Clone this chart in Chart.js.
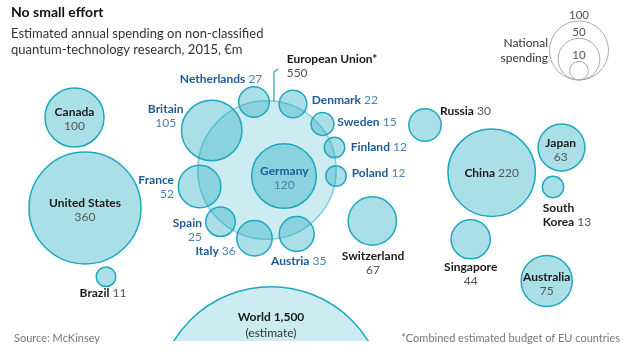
<!DOCTYPE html>
<html><head><meta charset="utf-8">
<script src="https://cdn.jsdelivr.net/npm/chart.js@4.4.0/dist/chart.umd.min.js"></script>
<style>html,body{margin:0;padding:0;background:#fff}canvas{display:block}</style>
</head><body>
<canvas id="c" width="640" height="357"></canvas>
<script>
// ---- data ----
const countries = ["Canada","United States","Brazil","Britain","France","Spain","Italy","Austria","Netherlands","Denmark","Sweden","Finland","Poland","Germany","Switzerland","Russia","China","Japan","South Korea","Singapore","Australia"];
const spending  = [100,360,11,105,52,25,36,35,27,22,15,12,12,120,67,30,220,63,13,44,75];
const isEU      = [false,false,false,true,true,true,true,true,true,true,true,true,true,true,false,false,false,false,false,false,false];
// layout positions of the bubbles (chart units)
const posX = [74.5,85,106,211.7,199.6,220.5,254.5,296.7,254,293,322.5,334.5,336,284,372.3,425,491.7,561.5,553,470.7,546.7];
const posY = [117.5,208,276.7,130.5,186.5,221.7,238.3,234,102,104,124,147.5,176,176,221,125,172.8,147.5,187,239.3,281];
const euName = "European Union*", euValue = 550, euPos = [267,170];
const worldName = "World", worldValue = 1500, worldPos = [271,401];
const legendValues = [100,50,10];
const legendPos = [579,80]; // bottom-anchored

const K = 2.95;
const rad = v => K*Math.sqrt(v);

// label placements: mode, dx, dy (first line), align
const labelStyle = [
 ["stack",0,-5,"center"],["stack",0,-5,"center"],["inline",-3,16.3,"center"],
 ["stack",-46,-21,"center"],["stack",-25.6,-6.5,"right"],["stack",-18.5,1,"right"],
 ["inline",-18.8,12.7,"right"],["inline",2,26.7,"center"],["inline",8.3,-23,"right"],
 ["inline",18.7,-4,"left"],["inline",14.8,-2.3,"left"],["inline",16.2,0,"left"],
 ["inline",15.7,-2.7,"left"],["stack",0.3,-5,"center"],["stack",0.7,34.7,"center"],
 ["inline",15,-14.3,"left"],["inline",0,0.5,"center"],["stack",-0.8,-4.2,"center"],
 ["split",-10.3,21.3,"left"],["stack",0,27.4,"center"],["stack",0,-4.3,"center"]
];

const FONT = "Lato";
const fill = 'rgba(0,158,184,0.33)';
const fillLight = 'rgba(0,158,184,0.2)';
const stroke = '#1ea8bf';

function fmt(v){return v.toLocaleString('en-US');}

function drawParts(ctx, parts, x, y, align){
  let w=0; const ws=parts.map(p=>{ctx.font=p[1];const m=ctx.measureText(p[0]).width;w+=m;return m;});
  let sx = align==="left"?x:(align==="right"?x-w:x-w/2);
  ctx.textAlign="left"; ctx.textBaseline="middle";
  parts.forEach((p,i)=>{ctx.font=p[1];ctx.fillStyle=p[2];ctx.fillText(p[0],sx,y);sx+=ws[i];});
}

const labelPlugin = {
  id:'labels',
  afterDatasetsDraw(chart){
    const ctx=chart.ctx; ctx.save();
    const bF=`bold 12px ${FONT}`, rF=`12px ${FONT}`;
    const meta=chart.getDatasetMeta(0);
    countries.forEach((name,i)=>{
      const el=meta.data[i]; const [mode,dx,dy,al]=labelStyle[i];
      const nc=isEU[i]?'#1d5a96':'#1a1a1a', vc=isEU[i]?'#4c7fb3':'#555';
      const v=fmt(spending[i]); const x=el.x+dx, y=el.y+dy;
      if(mode==="stack"){drawParts(ctx,[[name,bF,nc]],x,y,al);drawParts(ctx,[[v,rF,vc]],x,y+14,al);}
      else if(mode==="inline"){drawParts(ctx,[[name,bF,nc],[" "+v,rF,vc]],x,y,al);}
      else {const w=name.split(" ");drawParts(ctx,[[w[0],bF,nc]],x,y,al);drawParts(ctx,[[w.slice(1).join(" "),bF,nc],[" "+v,rF,vc]],x,y+14,al);}
    });
    const eu=chart.getDatasetMeta(1).data[0];
    drawParts(ctx,[[euName,`bold 12px ${FONT}`,'#1a1a1a']],eu.x+19.7,eu.y-110.7,"left");
    drawParts(ctx,[[fmt(euValue),rF,'#555']],eu.x+19.7,eu.y-96.7,"left");
    ctx.strokeStyle=stroke; ctx.lineWidth=1.2; ctx.beginPath();
    ctx.moveTo(eu.x+7,eu.y-rad(euValue)+0.5); ctx.lineTo(eu.x+7,eu.y-98); ctx.lineTo(eu.x+11,eu.y-101); ctx.stroke();
    const wd=chart.getDatasetMeta(2).data[0];
    drawParts(ctx,[[worldName,bF,'#1a1a1a'],[" "+fmt(worldValue),bF,'#1a1a1a']],wd.x,wd.y-84.3,"center");
    drawParts(ctx,[["(estimate)",rF,'#333']],wd.x,wd.y-67.5,"center");
    const lg=chart.getDatasetMeta(3).data;
    legendValues.forEach((v,i)=>{drawParts(ctx,[[String(v),`11.5px ${FONT}`,'#555']],lg[i].x,lg[i].y-rad(v)-6,"center");});
    drawParts(ctx,[["National",`12px ${FONT}`,'#333']],lg[0].x-31,43,"right");
    drawParts(ctx,[["spending",`12px ${FONT}`,'#333']],lg[0].x-31,58,"right");
    drawParts(ctx,[["No small effort",`bold 14px ${FONT}`,'#111']],11,12,"left");
    drawParts(ctx,[["Estimated annual spending on non-classified",`13px ${FONT}`,'#333']],11,34,"left");
    drawParts(ctx,[["quantum-technology research, 2015, €m",`13px ${FONT}`,'#333']],11,50,"left");
    drawParts(ctx,[["Source: McKinsey",`11px ${FONT}`,'#777']],14,338,"left");
    drawParts(ctx,[["*Combined estimated budget of EU countries",`11px ${FONT}`,'#777']],620,338,"right");
    ctx.restore();
  }
};

new Chart(document.getElementById('c'),{
  type:'bubble',
  data:{datasets:[
    {label:'Countries',data:countries.map((c,i)=>({x:posX[i],y:posY[i],r:rad(spending[i])})),
     backgroundColor:fill,borderColor:stroke,borderWidth:1.5,clip:false,order:1},
    {label:'EU',data:[{x:euPos[0],y:euPos[1],r:rad(euValue)}],
     backgroundColor:fillLight,borderColor:'rgba(30,168,191,0.5)',borderWidth:1.5,clip:false,order:3},
    {label:'World',data:[{x:worldPos[0],y:worldPos[1],r:rad(worldValue)}],
     backgroundColor:fillLight,borderColor:stroke,borderWidth:1.5,clip:{left:200,top:200,right:200,bottom:0},order:2},
    {label:'Legend',data:legendValues.map(v=>({x:legendPos[0],y:legendPos[1]-rad(v),r:rad(v)})),
     backgroundColor:'rgba(0,0,0,0)',borderColor:'#aaa',borderWidth:1,clip:false,order:0}
  ]},
  options:{
    responsive:false,animation:false,events:[],devicePixelRatio:1,
    layout:{autoPadding:false,padding:{left:0,right:0,top:0,bottom:16}},
    scales:{x:{display:false,min:0,max:640},y:{display:false,min:0,max:341,reverse:true}},
    plugins:{legend:{display:false},tooltip:{enabled:false},title:{display:false}},
    elements:{point:{hoverRadius:0,hoverBorderWidth:0}}
  },
  plugins:[labelPlugin]
});
</script>
</body></html>
